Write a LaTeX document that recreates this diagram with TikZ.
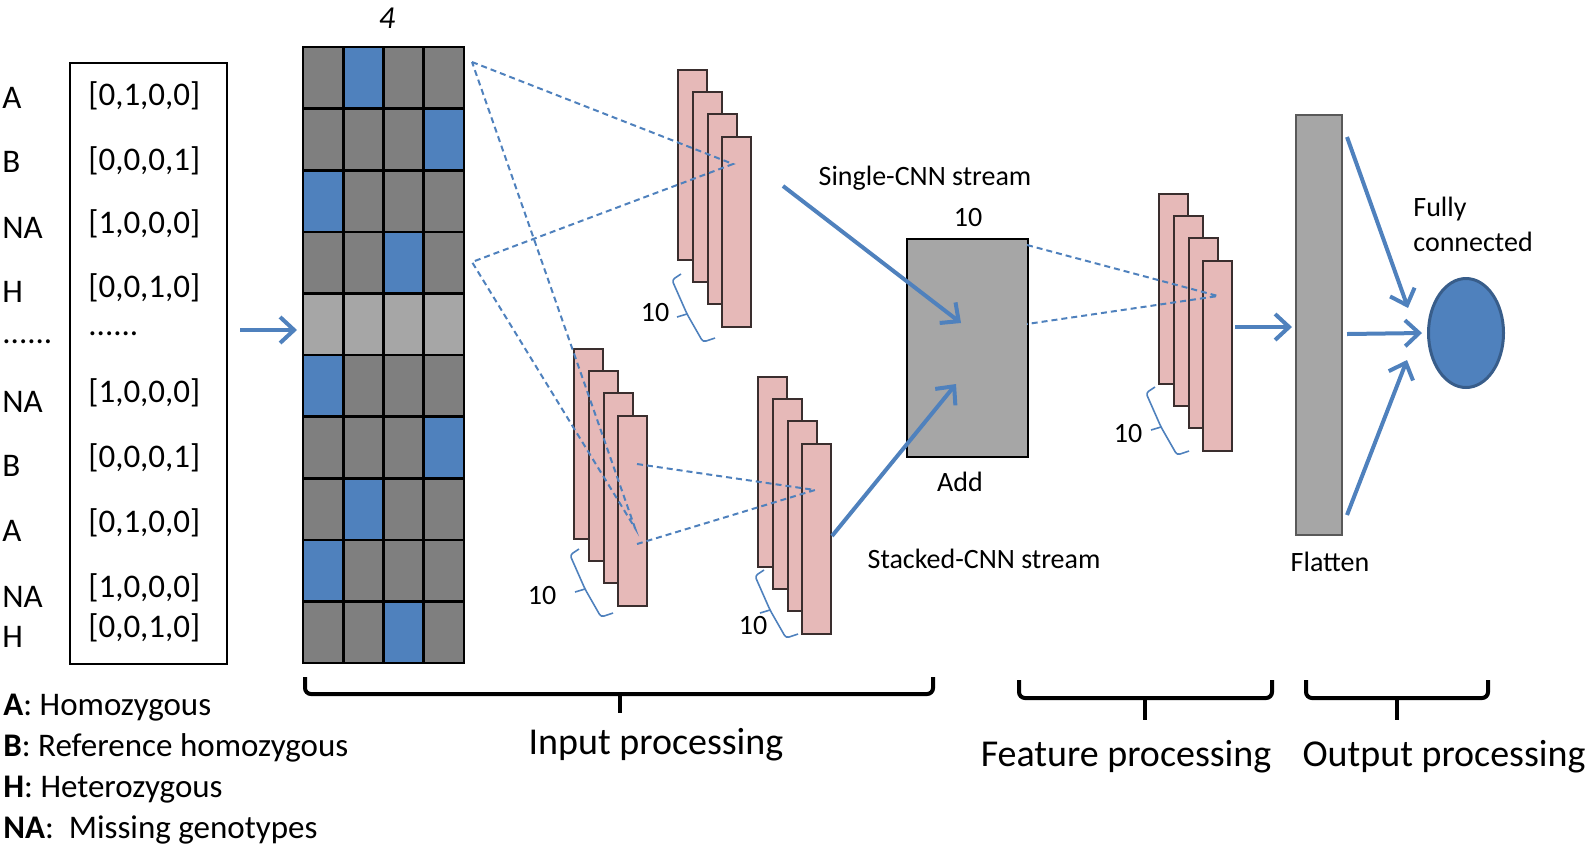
\documentclass[tikz,border=0pt]{standalone}
\usepackage{fontspec}
\setmainfont{Carlito}
\usetikzlibrary{arrows.meta,fit,shapes.geometric}
\definecolor{gDark}{HTML}{7F7F7F}
\definecolor{gLight}{HTML}{A6A6A6}
\definecolor{gBlue}{HTML}{4F81BD}
\definecolor{pinkC}{HTML}{E6B9B8}
\definecolor{pinkEdge}{HTML}{3A2E2E}
\definecolor{ellEdge}{HTML}{385D8A}
\definecolor{flatEdge}{HTML}{595959}
\newcommand\sixdots{......}
\newcommand\fmstack[3]{%
  \foreach \i in {0,1,2,3} {
    \node[fmap] (#1-\i) at ({#2+14.8*\i},{#3+22.2*\i}) {};
  }%
}
\newcommand\tenbrace[3]{%
  \coordinate (#1-m) at ({#2+15},{#3+34});
  \coordinate (#1-t) at ({#2+5},{#3+37});
  \draw[tenbr] ({#2+9},{#3-6}) -- (#2,#3) -- (#1-m) -- ({#2+31},{#3+62}) -- ({#2+43},{#3+58});
  \draw[tenbr] (#1-m) -- (#1-t);
}
\begin{document}
\begin{tikzpicture}[x=0.5pt,y=-0.5pt,
  txt/.style={font=\fontsize{16.5}{20}\selectfont, inner sep=0pt},
  small/.style={font=\fontsize{14}{17.5}\selectfont, inner sep=0pt},
  big/.style={font=\fontsize{19}{23}\selectfont, inner sep=0pt},
  fmap/.style={draw=pinkEdge, fill=pinkC, line width=1pt, minimum width=14.5pt, minimum height=95pt, anchor=north west, inner sep=0pt},
  conv/.style={draw=gBlue, line width=1pt, dash pattern=on 3pt off 2pt},
  flow/.style={draw=gBlue, line width=2pt, -{Straight Barb[length=7pt,width=13pt,line width=2pt]}},
  tenbr/.style={draw=gBlue, line width=0.8pt, rounded corners=1.5pt},
  secbr/.style={draw=black, line width=2pt, rounded corners=3pt},
]
\useasboundingbox (0,0) rectangle (1594,853);

% ---- one-hot vectors ----
\node[draw=black, line width=1pt, minimum width=78.5pt, minimum height=300.5pt, anchor=north west, inner sep=0pt] (vec) at (69,62) {};
\foreach \lab/\yb [count=\k] in {A/108,B/172,NA/238,H/302,\sixdots/343,NA/412,B/476,A/541,NA/607,H/647}
  \node[txt, anchor=base west] (row\k) at (2,\yb) {\lab};
\foreach \lab/\yb [count=\k] in {{[0,1,0,0]}/105,{[0,0,0,1]}/170,{[1,0,0,0]}/233,{[0,0,1,0]}/297,\sixdots/335,{[1,0,0,0]}/402,{[0,0,0,1]}/467,{[0,1,0,0]}/532,{[1,0,0,0]}/597,{[0,0,1,0]}/637}
  \node[txt, anchor=base west] (v\k) at (88,\yb) {\lab};

% ---- input grid ----
\foreach \b [count=\r from 0] in {2,4,1,3,0,1,4,2,1,3} {
  \foreach \c in {1,2,3,4} {
    \ifnum\b=0 \def\cellcol{gLight}\else\ifnum\c=\b \def\cellcol{gBlue}\else\def\cellcol{gDark}\fi\fi
    \fill[\cellcol] ({303+(\c-1)*40.25},{47+\r*61.6}) rectangle ({303+\c*40.25},{47+(\r+1)*61.6});
  }
}
\foreach \c in {1,2,3} \draw[line width=1.3pt] ({303+\c*40.25},47) -- ({303+\c*40.25},663);
\foreach \r in {1,2,3,4,5,6,7,8,9} \draw[line width=1.3pt] (303,{47+\r*61.6}) -- (464,{47+\r*61.6});
\node[draw=black, line width=1.3pt, fit={(303,47)(464,663)}, inner sep=0pt] (grid) {};
\node[inner sep=0pt, font=\fontsize{16}{19}\selectfont\itshape] (four) at (387,18) {4};

\coordinate (inS) at (240,330);
\coordinate (inE) at (297,330);
\draw[flow] (inS) -- (inE);

% ---- feature maps ----
\fmstack{top}{677}{69}
\fmstack{lowa}{573}{348}
\fmstack{lowb}{757}{376}
\fmstack{feat}{1158}{193}

% dashed receptive fields
\coordinate (gTop) at (472,62);
\coordinate (gMid) at (472,262);
\coordinate (k1) at (733,164);
\coordinate (k2) at (635,528);
\draw[conv] (gTop) -- (k1) -- (gMid) -- (k2) -- cycle;
\coordinate (s1a) at (637,464);
\coordinate (s1b) at (637,544);
\coordinate (k3) at (815,490);
\draw[conv] (s1a) -- (k3) -- (s1b);

% braces "10"
\tenbrace{bt}{672}{280}
\tenbrace{ba}{570}{555}
\tenbrace{bb}{755}{576}
\tenbrace{bf}{1146}{393}
\node[small] (tenT) at (655,313) {10};
\node[small] (tenA) at (542,595) {10};
\node[small] (tenB) at (753,625) {10};
\node[small] (tenF) at (1128,433) {10};

% ---- Add ----
\node[draw=black, fill=gLight, line width=1pt, minimum width=60.5pt, minimum height=109pt, anchor=north west, inner sep=0pt] (add) at (906,238) {};
\node[small] (addten) at (968,218) {10};
\node[small] (addlab) at (960,482) {Add};
\node[small] (single) at (925,178) {Single-CNN stream};
\node[small] (stacked) at (984,559) {Stacked-CNN stream};
\coordinate (sc1) at (783,186);
\coordinate (sc2) at (961,323);
\draw[flow] (sc1) -- (sc2);
\coordinate (st1) at (832,536);
\coordinate (st2) at (956,384);
\draw[flow] (st1) -- (st2);

\coordinate (a1) at (1027,245);
\coordinate (a2) at (1027,324);
\coordinate (k4) at (1218,296);
\draw[conv] (a1) -- (k4) -- (a2);

% ---- flatten and output ----
\coordinate (ff1) at (1235,327);
\coordinate (ff2) at (1292,327);
\draw[flow] (ff1) -- (ff2);
\node[draw=flatEdge, fill=gLight, line width=1pt, minimum width=23pt, minimum height=210pt, anchor=north west, inner sep=0pt] (flat) at (1295,114) {};
\node[small] (flatlab) at (1330,562) {Flatten};
\node[ellipse, draw=ellEdge, fill=gBlue, line width=1.5pt, minimum width=37.5pt, minimum height=54.5pt, inner sep=0pt] (out) at (1466,333) {};
\node[small, align=left, anchor=north west] (fc) at (1413,197) {Fully\\connected};
\coordinate (o1s) at (1347,137);
\coordinate (o1e) at (1408,308);
\coordinate (o2s) at (1347,334);
\coordinate (o2e) at (1422,333);
\coordinate (o3s) at (1347,515);
\coordinate (o3e) at (1407,360);
\draw[flow] (o1s) -- (o1e);
\draw[flow] (o2s) -- (o2e);
\draw[flow] (o3s) -- (o3e);

% ---- section braces ----
\draw[secbr] (305,677) -- (305,694) -- (933,694) -- (933,677);
\draw[secbr] (620,694) -- (620,713);
\draw[secbr] (1019,680) -- (1019,698) -- (1272,698) -- (1272,680);
\draw[secbr] (1145,698) -- (1145,720);
\draw[secbr] (1306,680) -- (1306,698) -- (1488,698) -- (1488,680);
\draw[secbr] (1397,698) -- (1397,720);
\node[big] (secIn) at (656,745) {Input processing};
\node[big] (secFe) at (1126,757) {Feature processing};
\node[big] (secOut) at (1444,757) {Output processing};

% ---- legend ----
\node[txt, anchor=base west] (legA) at (3,715) {\textbf{A}: Homozygous};
\node[txt, anchor=base west] (legB) at (3,756) {\textbf{B}: Reference homozygous};
\node[txt, anchor=base west] (legH) at (3,797) {\textbf{H}: Heterozygous};
\node[txt, anchor=base west] (legN) at (3,838) {\textbf{NA}:\ \ Missing genotypes};
\end{tikzpicture}
\end{document}
